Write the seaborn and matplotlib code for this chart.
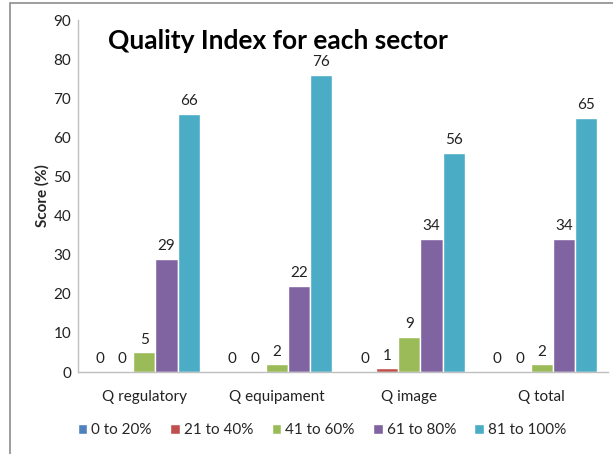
import matplotlib
matplotlib.use("Agg")
import matplotlib.pyplot as plt
import seaborn as sns
import pandas as pd
from matplotlib.patches import Rectangle

categories = ["Q regulatory", "Q equipament", "Q image", "Q total"]
series = ["0 to 20%", "21 to 40%", "41 to 60%", "61 to 80%", "81 to 100%"]
s0_20 = [0, 0, 0, 0]
s21_40 = [0, 0, 1, 0]
s41_60 = [5, 2, 9, 2]
s61_80 = [29, 22, 34, 34]
s81_100 = [66, 76, 56, 65]
colors = ["#4F81BD", "#C0504D", "#9BBB59", "#8064A2", "#4BACC6"]

rows = []
for name, vals in zip(series, [s0_20, s21_40, s41_60, s61_80, s81_100]):
    for c, v in zip(categories, vals):
        rows.append({"cat": c, "series": name, "val": v})
df = pd.DataFrame(rows)

sns.set_theme(style="white")
plt.rcParams["font.family"] = ["Lato", "DejaVu Sans"]

fig = plt.figure(figsize=(6.13, 4.54), dpi=100)
ax = fig.add_axes([78/613, 1-372/454, (608-78)/613, (372-20)/454])
sns.barplot(data=df, x="cat", y="val", hue="series", palette=colors,
            width=0.84, gap=0, ax=ax, saturation=1, legend=True)
for cont in ax.containers:
    ax.bar_label(cont, fmt="%d", padding=4, fontsize=11, color="#222222")

ax.set_ylim(0, 90)
ax.set_xlim(-0.5, 3.5)
ax.set_yticks(range(0, 91, 10))
ax.tick_params(axis="y", length=0, labelsize=11, colors="#222222", pad=5)
ax.tick_params(axis="x", length=0, labelsize=11, colors="#222222", pad=13)
ax.set_xlabel("")
ax.set_ylabel("Score (%)", fontsize=11, fontweight="bold", labelpad=3)
for sp in ["top", "right"]:
    ax.spines[sp].set_visible(False)
for sp in ["left", "bottom"]:
    ax.spines[sp].set_color("#BFBFBF")
    ax.spines[sp].set_linewidth(1)

leg = ax.legend(loc="center", bbox_to_anchor=(0.5*(72+572)/613, 1-430/454),
                bbox_transform=fig.transFigure, ncol=5, frameon=False,
                fontsize=11, handlelength=0.65, handleheight=0.65,
                handletextpad=0.25, columnspacing=1.2)

fig.text(108/613, 1-41/454, "Quality Index for each sector", fontsize=19,
         fontweight="bold", ha="left", va="center", color="black")

fig.patches.append(Rectangle((10/613, -0.1), 1.2, 1 - 3/454 + 0.1,
                             transform=fig.transFigure, fill=False,
                             edgecolor="#8C8C8C", linewidth=1.2))

fig.savefig("out.png", dpi=100)
